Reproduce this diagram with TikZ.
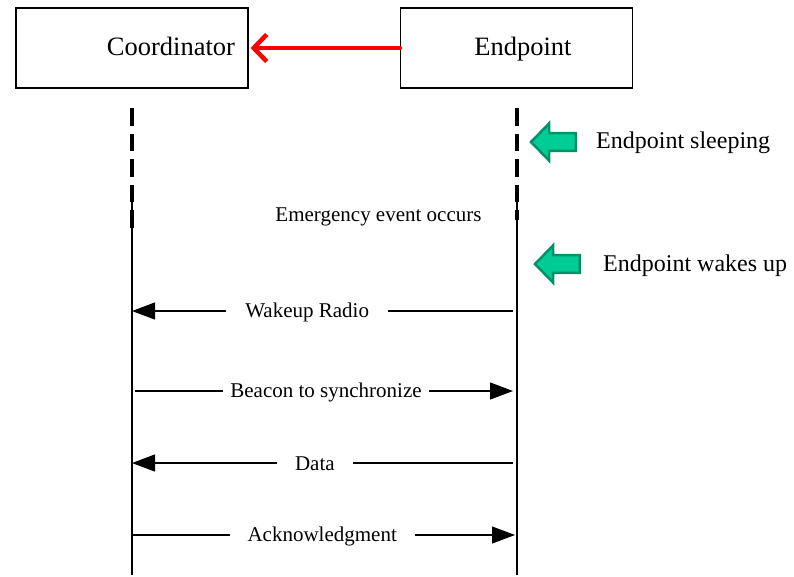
\documentclass[tikz,border=0pt]{standalone}
\usepackage{fontspec}
\setmainfont{Liberation Serif}
\usetikzlibrary{arrows.meta}
\definecolor{notefill}{RGB}{0,204,150}
\definecolor{noteedge}{RGB}{0,145,105}
\begin{document}
\begin{tikzpicture}[x=1pt, y={(0pt,-1pt)},
  party/.style={draw, line width=1.2pt, minimum height=80pt, minimum width=232pt,
    text height=18pt, text depth=4pt, font=\fontsize{26.5}{30}\selectfont},
  sleepline/.style={line width=3.5pt, dash pattern=on 17.5pt off 8pt},
  awakeline/.style={line width=1.1pt},
  msg/.style={line width=1.2pt, -{Triangle[length=23pt,width=17pt]}},
  msglabel/.style={fill=white, inner ysep=2pt, font=\fontsize{21}{24}\selectfont},
  note/.style={anchor=west, inner sep=0pt, font=\fontsize{24}{28}\selectfont},
  pics/wakearrow/.style={code={
    \draw[line width=2.5pt, draw=noteedge, fill=notefill, line join=miter]
      (0,0) -- (18,-18.5) -- (18,-8.8) -- (44.8,-8.8) -- (44.8,8.8)
      -- (18,8.8) -- (18,18.5) -- cycle;}}
]
\useasboundingbox (0,0) rectangle (794,576);

% participants
\node[party, inner xsep=13pt, text width=206pt, align=right] (coord) at (132,48) {Coordinator};
\node[party, inner xsep=61pt, text width=110pt, align=right] (endp) at (516.5,48) {Endpoint};
\draw[red, line width=4.5pt, line cap=round, line join=round,
  -{Straight Barb[length=13pt,width=27pt]}] (endp.west) -- ([xshift=2pt]coord.east);

% lifelines: dashed while asleep, solid once awake
\coordinate (ctop) at (132,108);
\coordinate (cdash) at (132,228);
\coordinate (cmid) at (132,200);
\coordinate (cbot) at (132,575);
\coordinate (etop) at (517,108);
\coordinate (edash) at (517,220);
\coordinate (emid) at (517,200);
\coordinate (ebot) at (517,575);
\draw[sleepline] (ctop) -- (cdash);
\draw[awakeline] (cmid) -- (cbot);
\draw[sleepline] (etop) -- (edash);
\draw[awakeline] (emid) -- (ebot);

% state notes
\pic at (531,142) {wakearrow};
\node[note] (sleep) at (596,143) {Endpoint sleeping};
\node[msglabel, fill=none] (event) at (378.5,216.5) {Emergency event occurs};
\pic at (535,264) {wakearrow};
\node[note] (wake) at (603,266) {Endpoint wakes up};

% messages
\coordinate (c1) at (132,311); \coordinate (e1) at (517,311);
\coordinate (c2) at (132,391); \coordinate (e2) at (517,391);
\coordinate (c3) at (132,463); \coordinate (e3) at (517,463);
\coordinate (c4) at (132,535); \coordinate (e4) at (517,535);

\draw[msg, shorten <=4pt] (e1) -- (c1)
  node[msglabel, inner xsep=19pt, pos=0.545, yshift=-1pt] (m1) {Wakeup Radio};
\draw[msg, shorten <=3pt, shorten >=4pt] (c2) -- (e2)
  node[msglabel, inner xsep=7pt, pos=0.504, yshift=-1pt] (m2) {Beacon to synchronize};
\draw[msg, shorten <=4pt] (e3) -- (c3)
  node[msglabel, inner xsep=18pt, pos=0.525, yshift=-1pt] (m3) {Data};
\draw[msg, shorten >=2pt] (c4) -- (e4)
  node[msglabel, inner xsep=18pt, pos=0.494, yshift=-1pt] (m4) {Acknowledgment};
\end{tikzpicture}
\end{document}
